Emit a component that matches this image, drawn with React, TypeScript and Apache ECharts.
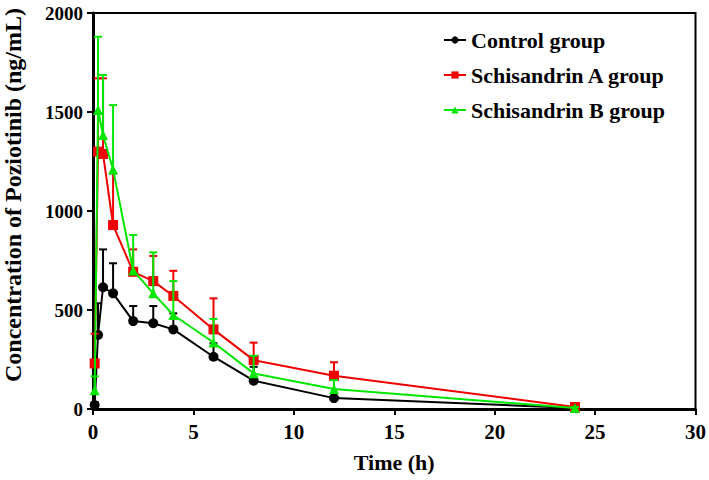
import React, { useEffect, useRef } from "react";
import * as echarts from "echarts";

const times = [0.083, 0.25, 0.5, 1, 2, 3, 4, 6, 8, 12, 24];
const controlMean = [20, 374, 615, 584, 444, 433, 402, 264, 143, 55, 5];
const controlSD = [15, 160, 191, 152, 76, 87, 81, 68, 70, 10, 3];
const schAMean = [230, 1300, 1288, 929, 693, 646, 571, 402, 247, 168, 10];
const schASD = [150, 370, 382, 261, 113, 127, 127, 157, 88, 68, 12];
const schBMean = [95, 1510, 1384, 1210, 700, 584, 475, 336, 180, 101, 5];
const schBSD = [70, 370, 303, 325, 179, 207, 171, 119, 89, 45, 5];

const seriesNames = ["Control group", "Schisandrin A group", "Schisandrin B group"];
const seriesColors = ["#000000", "#f00000", "#00e600"];
const seriesSymbols = ["circle", "rect", "triangle"];
const xTicks = [0, 5, 10, 15, 20, 25, 30];
const yTicks = [0, 500, 1000, 1500, 2000];

const FONT = '"Times New Roman", "Liberation Serif", "DejaVu Serif", serif';

export default function App() {
  const ref = useRef<HTMLDivElement>(null);
  useEffect(() => {
    document.body.style.margin = "0";
    if (!ref.current) return;
    const chart = echarts.init(ref.current, undefined, { renderer: "svg" });
    const means = [controlMean, schAMean, schBMean];
    const sds = [controlSD, schASD, schBSD];
    const series: any[] = [];
    means.forEach((m, i) => {
      series.push({
        name: "err-" + i,
        type: "custom",
        z: 2 + i * 2,
        data: times.map((t, k) => [t, m[k], sds[i][k]]),
        encode: { x: 0, y: 1 },
        renderItem: (params: any, api: any) => {
          const x = api.value(0);
          const v = api.value(1);
          const e = api.value(2);
          const p0 = api.coord([x, v]);
          const p1 = api.coord([x, v + e]);
          const style = { stroke: seriesColors[i], lineWidth: 2 };
          return {
            type: "group",
            children: [
              { type: "line", shape: { x1: p0[0], y1: p0[1], x2: p1[0], y2: p1[1] }, style },
              { type: "line", shape: { x1: p1[0] - 4, y1: p1[1], x2: p1[0] + 4, y2: p1[1] }, style },
            ],
          };
        },
      });
      series.push({
        name: seriesNames[i],
        type: "line",
        z: 3 + i * 2,
        data: times.map((t, k) => [t, m[k]]),
        symbol: seriesSymbols[i],
        symbolSize: 10,
        showAllSymbol: true,
        itemStyle: { color: seriesColors[i] },
        lineStyle: { color: seriesColors[i], width: 2 },
      });
    });

    chart.setOption({
      animation: false,
      grid: {
        left: 93,
        right: 13,
        top: 13,
        bottom: 71,
        show: true,
        borderColor: "#000",
        borderWidth: 2,
        backgroundColor: "transparent",
      },
      legend: {
        data: seriesNames,
        orient: "vertical",
        left: 438,
        top: 24,
        itemWidth: 22,
        itemHeight: 9,
        itemGap: 13,
        textStyle: {
          fontFamily: FONT,
          fontWeight: "bold",
          fontSize: 22,
          lineHeight: 22,
          color: "#000",
        },
      },
      xAxis: {
        type: "value",
        min: xTicks[0],
        max: xTicks[xTicks.length - 1],
        interval: 5,
        name: "Time (h)",
        nameLocation: "middle",
        nameGap: 42,
        nameTextStyle: { fontFamily: FONT, fontWeight: "bold", fontSize: 22, color: "#000" },
        axisLine: { show: true, lineStyle: { color: "#000", width: 3 } },
        axisTick: { show: true, length: 6, lineStyle: { color: "#000", width: 2 } },
        axisLabel: {
          fontFamily: FONT,
          fontWeight: "bold",
          fontSize: 21,
          color: "#000",
          margin: 12,
          formatter: (v: number) => String(v),
        },
        splitLine: { show: false },
      },
      yAxis: {
        type: "value",
        min: yTicks[0],
        max: yTicks[yTicks.length - 1],
        interval: 500,
        axisLine: { show: true, lineStyle: { color: "#000", width: 3 } },
        axisTick: { show: true, length: 6, lineStyle: { color: "#000", width: 2 } },
        axisLabel: {
          fontFamily: FONT,
          fontWeight: "bold",
          fontSize: 19,
          color: "#000",
          margin: 10,
          formatter: (v: number) => String(v),
        },
        splitLine: { show: false },
      },
      graphic: [
        {
          type: "text",
          x: 13,
          y: 195,
          rotation: Math.PI / 2,
          style: {
            text: "Concentration of Poziotinib (ng/mL)",
            fontFamily: FONT,
            fontWeight: "bold",
            fontSize: 24,
            fill: "#000",
            align: "center",
            verticalAlign: "middle",
          },
        },
      ],
      series,
    });
    return () => chart.dispose();
  }, []);
  return <div ref={ref} style={{ width: 709, height: 480 }} />;
}
